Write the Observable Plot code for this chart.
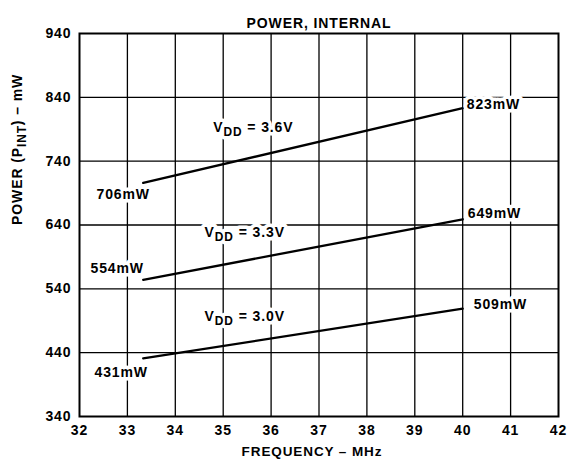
<!DOCTYPE html>
<html>
<head>
<meta charset="utf-8">
<script src="https://cdn.jsdelivr.net/npm/d3@7"></script>
<script src="https://cdn.jsdelivr.net/npm/@observablehq/plot@0.6"></script>
<style>
  body { margin: 0; background: #fff; }
  #chart svg { display: block; }
</style>
</head>
<body>
<div id="chart"></div>
<script>
// Data
const freqStart = 33.33;
const freqEnd = 40;
const supplies = ["3.6V", "3.3V", "3.0V"];
const powerStart = [706, 554, 431];
const powerEnd = [823, 649, 509];
const xTicks = [32, 33, 34, 35, 36, 37, 38, 39, 40, 41, 42];
const yTicks = [340, 440, 540, 640, 740, 840, 940];
// annotation anchors (data units) for the supply labels
const vddLabelX = [35.63, 35.45, 35.45];
const vddLabelY = [792, 629, 496];

const lines = supplies.flatMap((s, i) => [
  {supply: s, f: freqStart, p: powerStart[i]},
  {supply: s, f: freqEnd, p: powerEnd[i]}
]);
const startLabels = supplies.map((s, i) => ({f: freqStart, p: powerStart[i], text: powerStart[i] + "mW"}));
const endLabels = supplies.map((s, i) => ({f: freqEnd, p: powerEnd[i], text: powerEnd[i] + "mW"}));
const vddLabels = supplies.map((s, i) => ({f: vddLabelX[i], p: vddLabelY[i], text: "V{DD} = " + s}));

const startOff = [[-20, 12], [-26, -11], [-22, 14]];
const endOff = [[4, -4], [5, -6], [11, -4]];

const halo = {stroke: "white", strokeWidth: 7, fill: "black", fontSize: 14, fontWeight: "bold"};

const chart = Plot.plot({
  width: 567,
  height: 461,
  marginLeft: 79,
  marginRight: 9,
  marginTop: 33,
  marginBottom: 45,
  style: "font-family: 'Liberation Sans', Arial, sans-serif; font-weight: bold; font-size: 14px; letter-spacing: 0.9px; color: black; background: white;",
  x: {domain: [32, 42], ticks: xTicks},
  y: {domain: [340, 940], ticks: yTicks},
  marks: [
    Plot.gridX(xTicks.slice(1, -1), {stroke: "black", strokeOpacity: 1, strokeWidth: 1.3}),
    Plot.gridY(yTicks.slice(1, -1), {stroke: "black", strokeOpacity: 1, strokeWidth: 1.3}),
    Plot.axisX(xTicks, {tickSize: 0, tickPadding: 9, fontSize: 14, fontWeight: "bold", label: null}),
    Plot.axisY(yTicks, {tickSize: 0, tickPadding: 8, fontSize: 14, fontWeight: "bold", label: null}),
    Plot.line(lines, {x: "f", y: "p", z: "supply", stroke: "black", strokeWidth: 2.3}),
    ...startLabels.map((d, i) => Plot.text([d], {x: "f", y: "p", text: "text", dx: startOff[i][0], dy: startOff[i][1], ...halo})),
    ...endLabels.map((d, i) => Plot.text([d], {x: "f", y: "p", text: "text", textAnchor: "start", dx: endOff[i][0], dy: endOff[i][1], ...halo})),
    Plot.text(vddLabels, {x: "f", y: "p", text: "text", ...halo}),
    Plot.frame({stroke: "black", strokeWidth: 2}),
    Plot.text(["POWER, INTERNAL"], {frameAnchor: "top", dy: -15, fontSize: 14, fontWeight: "bold"}),
    Plot.text(["FREQUENCY – MHz"], {frameAnchor: "bottom", dy: 39, dx: -7, fontSize: 13.5, fontWeight: "bold"}),
    Plot.text(["POWER (P{INT}) – mW"], {frameAnchor: "left", dx: -62, rotate: -90, fontSize: 14, fontWeight: "bold"})
  ]
});

// Convert {..} markers into subscript tspans
chart.querySelectorAll("text").forEach(t => {
  const s = t.textContent;
  if (!s.includes("{")) return;
  const m = s.match(/^(.*)\{(.+?)\}(.*)$/);
  if (!m) return;
  while (t.firstChild) t.removeChild(t.firstChild);
  const ns = "http://www.w3.org/2000/svg";
  const a = document.createElementNS(ns, "tspan"); a.textContent = m[1];
  const b = document.createElementNS(ns, "tspan"); b.textContent = m[2];
  b.setAttribute("dy", "4"); b.setAttribute("font-size", "85%");
  const c = document.createElementNS(ns, "tspan"); c.textContent = m[3];
  c.setAttribute("dy", "-4");
  t.append(a, b, c);
});

document.getElementById("chart").append(chart);
</script>
</body>
</html>
